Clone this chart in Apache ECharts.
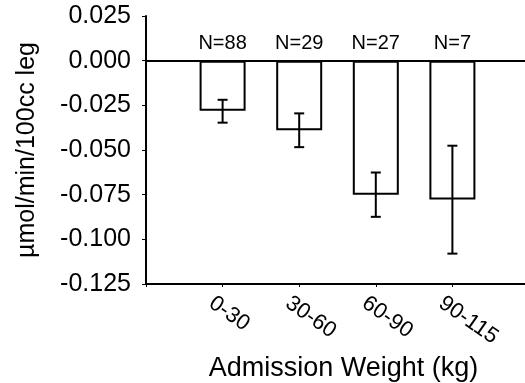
<!DOCTYPE html>
<html>
<head>
<meta charset="utf-8">
<script src="https://cdn.jsdelivr.net/npm/echarts@6/dist/echarts.min.js"></script>
<style>
html,body{margin:0;padding:0;background:#fff;}
#chart{width:525px;height:383px;}
</style>
</head>
<body>
<div id="chart"></div>
<script>
// ---- data ----
var categories = ['0-30', '30-60', '60-90', '90-115'];
var means = [-0.028, -0.039, -0.075, -0.0777];
var errLow = [-0.0347, -0.0484, -0.0874, -0.108];
var errHigh = [-0.0219, -0.0295, -0.0626, -0.0476];
var nLabels = ['N=88', 'N=29', 'N=27', 'N=7'];
var yTicks = { min: -0.125, max: 0.025, interval: 0.025 };

// padded category axis so the bars sit at 1..4 on a 0..5 scale
var axisCats = [''].concat(categories).concat(['']);
var barData = [null].concat(means).concat([null]);
var errData = categories.map(function (c, i) { return [c, errLow[i], errHigh[i]]; });

var FONT = '"Liberation Sans", Arial, Helvetica, sans-serif';
var chart = echarts.init(document.getElementById('chart'), null, { renderer: 'canvas' });
chart.setOption({
  animation: false,
  backgroundColor: '#fff',
  grid: { left: 146, right: -4, top: 16, bottom: 99, containLabel: false, outerBoundsMode: 'none' },
  xAxis: {
    type: 'category',
    data: axisCats,
    boundaryGap: false,
    position: 'bottom',
    axisLine: { onZero: false, lineStyle: { color: '#000', width: 2 } },
    axisTick: { show: true, length: 3, lineStyle: { color: '#000', width: 1 } },
    axisLabel: { rotate: -35, margin: 25, color: '#000', fontFamily: FONT, fontSize: 22, interval: 0,
                 padding: [0, 0, 0, -14] },
    splitLine: { show: false },
    name: 'Admission Weight (kg)',
    nameLocation: 'middle',
    nameGap: 70,
    nameTextStyle: { color: '#000', fontFamily: FONT, fontSize: 27, padding: [0, 0, 0, 12] }
  },
  yAxis: {
    type: 'value',
    min: yTicks.min,
    max: yTicks.max,
    interval: yTicks.interval,
    axisLine: { show: true, lineStyle: { color: '#000', width: 2 } },
    axisTick: { show: true, length: 4, lineStyle: { color: '#000', width: 1 } },
    axisLabel: {
      color: '#000', fontFamily: FONT, fontSize: 25, margin: 15,
      formatter: function (v) { return (Math.abs(v) < 1e-9 ? 0 : v).toFixed(3); }
    },
    splitLine: { show: false },
    name: 'µmol/min/100cc leg',
    nameLocation: 'middle',
    nameGap: 106,
    nameTextStyle: { color: '#000', fontFamily: FONT, fontSize: 25 }
  },
  series: [
    {
      type: 'bar',
      data: barData,
      barWidth: 46,
      itemStyle: { color: '#fff', borderColor: '#000', borderWidth: 2 },
      silent: true,
      markLine: {
        silent: true,
        symbol: ['none', 'none'],
        label: { show: false },
        lineStyle: { color: '#000', width: 2, type: 'solid' },
        data: [{ yAxis: 0 }]
      }
    },
    {
      type: 'custom',
      data: errData,
      silent: true,
      z: 5,
      renderItem: function (params, api) {
        var lo = api.coord([api.value(0), api.value(1)]);
        var hi = api.coord([api.value(0), api.value(2)]);
        var zero = api.coord([api.value(0), 0]);
        var x = lo[0];
        var cap = 5;
        var st = { stroke: '#000', lineWidth: 2 };
        return {
          type: 'group',
          children: [
            { type: 'line', shape: { x1: x, y1: hi[1], x2: x, y2: lo[1] }, style: st },
            { type: 'line', shape: { x1: x - cap, y1: hi[1], x2: x + cap, y2: hi[1] }, style: st },
            { type: 'line', shape: { x1: x - cap, y1: lo[1], x2: x + cap, y2: lo[1] }, style: st },
            { type: 'text', x: x, y: zero[1] - 17, style: {
                text: nLabels[params.dataIndex], fill: '#000', font: '20px ' + FONT,
                align: 'center', verticalAlign: 'middle' } }
          ]
        };
      }
    }
  ]
});
</script>
</body>
</html>
